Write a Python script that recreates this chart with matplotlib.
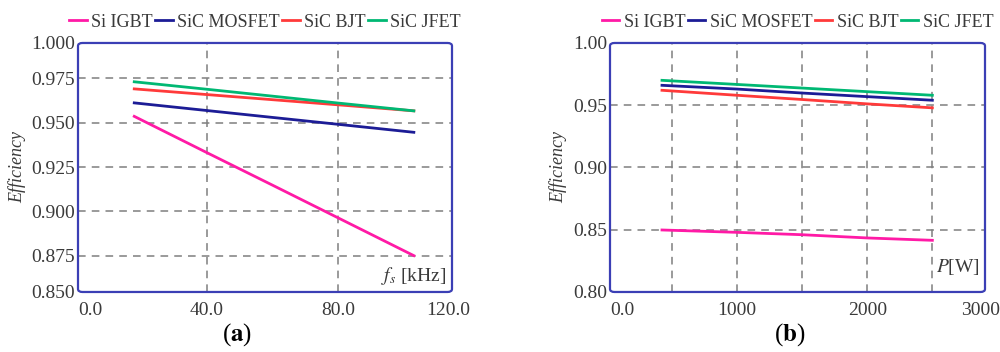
import numpy as np
import matplotlib
matplotlib.use('Agg')
import matplotlib.pyplot as plt
import matplotlib.transforms as mtransforms
from matplotlib.patches import FancyBboxPatch

plt.rcParams['font.family'] = ['Liberation Serif', 'DejaVu Serif']
plt.rcParams['mathtext.fontset'] = 'stix'

names = ['Si IGBT', 'SiC MOSFET', 'SiC BJT', 'SiC JFET']
colors = ['#ff1aa6', '#1c1c96', '#ff3a3a', '#00b873']

# (a) efficiency vs switching frequency
fs = [18, 40, 60, 80, 103]
eff_fs_igbt = [0.9536, 0.9332, 0.9148, 0.8963, 0.8750]
eff_fs_mosfet = [0.9612, 0.9569, 0.9530, 0.9491, 0.9446]
eff_fs_bjt = [0.9691, 0.9659, 0.9630, 0.9601, 0.9567]
eff_fs_jfet = [0.9731, 0.9689, 0.9650, 0.9611, 0.9567]

# (b) efficiency vs power
P = [425, 1000, 1500, 2000, 2500]
eff_p_igbt = [0.8498, 0.8479, 0.8460, 0.8434, 0.8415]
eff_p_mosfet = [0.9660, 0.9630, 0.9598, 0.9569, 0.9540]
eff_p_bjt = [0.9620, 0.9580, 0.9546, 0.9511, 0.9479]
eff_p_jfet = [0.9700, 0.9667, 0.9638, 0.9609, 0.9580]

frame_col = '#3b3fb5'
txt_col = '#3a3a3a'

fig = plt.figure(figsize=(10, 3.52), dpi=100)
axa = fig.add_axes([0.078, 0.1705, 0.374, 0.7074])
axb = fig.add_axes([0.610, 0.1705, 0.375, 0.7074])

def style(ax):
    for s in ax.spines.values():
        s.set_visible(False)
    ax.add_patch(FancyBboxPatch((0, 0), 1, 1, boxstyle='round,pad=0,rounding_size=0.012',
                                transform=ax.transAxes, fill=False, ec=frame_col, lw=1.6,
                                clip_on=False, zorder=5))
    ax.tick_params(length=0, labelsize=14, colors=txt_col)
    ax.tick_params(axis='x', pad=7)
    ax.tick_params(axis='y', pad=2)
    ax.set_ylabel('Efficiency', fontstyle='italic', fontsize=13, color=txt_col, labelpad=4)
    ax.legend(loc='lower center', bbox_to_anchor=(0.5, 1.02), ncol=4, frameon=False,
              fontsize=13, handlelength=0.95, handletextpad=0.25, columnspacing=0.15,
              borderaxespad=0, labelcolor=txt_col)
    # edge labels like the original
    labs = ax.get_xticklabels()
    labs[0].set_ha('left')
    labs[-1].set_transform(labs[-1].get_transform() +
                           mtransforms.ScaledTranslation(-4 / 100, 0, fig.dpi_scale_trans))

def grid(ax, xs, ys):
    for x in xs:
        ax.axvline(x, color='#7f7f7f', lw=1.1, ls=(0, (5, 4)), zorder=1)
    for y in ys:
        ax.axhline(y, color='#7f7f7f', lw=1.1, ls=(0, (5, 4)), zorder=1)

# panel (a)
for ys, c, n in zip([eff_fs_igbt, eff_fs_mosfet, eff_fs_bjt, eff_fs_jfet], colors, names):
    axa.plot(fs, ys, color=c, lw=2, label=n, zorder=3)
axa.set_xlim(0.9, 114.6)
axa.set_ylim(0.8545, 0.995)
grid(axa, [40, 80], [0.875, 0.9, 0.925, 0.95, 0.975])
axa.set_xticks([0.9, 40, 80, 114.6], ['0.0', '40.0', '80.0', '120.0'])
axa.set_yticks([0.8545, 0.875, 0.9, 0.925, 0.95, 0.975, 0.995],
               ['0.850', '0.875', '0.900', '0.925', '0.950', '0.975', '1.000'])
style(axa)
axa.text(0.985, 0.02, r'$f_s$ [kHz]', transform=axa.transAxes, ha='right', va='bottom',
         fontsize=14, color=txt_col)
fig.text(0.237, 0.012, r'($\mathbf{a}$)', ha='center', va='bottom', fontsize=18, color='black')

# panel (b)
for ys, c, n in zip([eff_p_igbt, eff_p_mosfet, eff_p_bjt, eff_p_jfet], colors, names):
    axb.plot(P, ys, color=c, lw=2, label=n, zorder=3)
axb.set_xlim(26, 2904)
axb.set_ylim(0.80, 1.00)
grid(axb, [500, 1000, 1500, 2000, 2500], [0.85, 0.9, 0.95])
axb.set_xticks([26, 1000, 2000, 2904], ['0.0', '1000', '2000', '3000'])
axb.set_yticks([0.80, 0.85, 0.90, 0.95, 1.00], ['0.80', '0.85', '0.90', '0.95', '1.00'])
style(axb)
axb.text(0.985, 0.06, r'$P$[W]', transform=axb.transAxes, ha='right', va='bottom',
         fontsize=14, color=txt_col)
fig.text(0.79, 0.012, r'($\mathbf{b}$)', ha='center', va='bottom', fontsize=18, color='black')

fig.savefig('out.png', dpi=100)
